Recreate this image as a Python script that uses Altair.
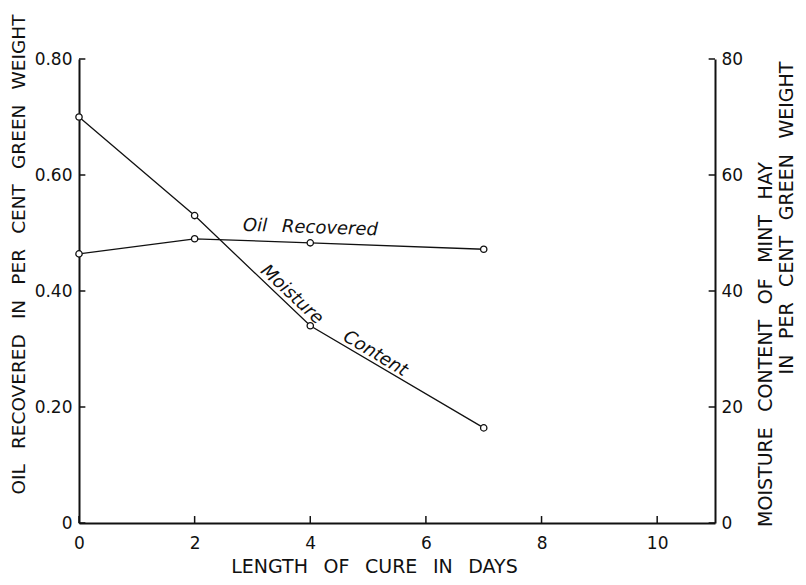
import altair as alt
import pandas as pd

# ---- data ----
days = [0, 2, 4, 7]
oil_recovered = [0.464, 0.490, 0.483, 0.472]      # per cent green weight (left axis)
moisture_content = [70, 53, 34, 16.4]             # per cent green weight (right axis)

x_ticks = [0, 2, 4, 6, 8, 10]
oil_ticks = [0, 0.2, 0.4, 0.6, 0.8]
moist_ticks = [0, 20, 40, 60, 80]

GAP = " \u2002"
x_title = GAP.join(["LENGTH", "OF", "CURE", "IN", "DAYS"])
left_title = GAP.join(["OIL", "RECOVERED", "IN", "PER", "CENT", "GREEN", "WEIGHT"])
right_title_1 = GAP.join(["MOISTURE", "CONTENT", "OF", "MINT", "HAY"])
right_title_2 = GAP.join(["IN", "PER", "CENT", "GREEN", "WEIGHT"])

oil_label = ["Oil" + GAP + "Recovered"]
oil_label_day = [4.0]
oil_label_val = [0.500]
oil_label_angle = [2]

moist_labels = ["Moisture", "Content"]
moist_label_day = [3.62, 5.08]
moist_label_val = [38.7, 28.4]
moist_label_angle = [43, 31]

FONT = "DejaVu Sans"
INK = "#111111"

df = pd.DataFrame({"day": days, "oil": oil_recovered, "moist": moisture_content})
df_oil_lab = pd.DataFrame({"day": oil_label_day, "oil": oil_label_val,
                           "text": oil_label, "angle": oil_label_angle})
df_moist_lab = pd.DataFrame({"day": moist_label_day, "moist": moist_label_val,
                             "text": moist_labels, "angle": moist_label_angle})

# inward tick marks (drawn as rules on the chart's own scales)
df_left_ticks = pd.DataFrame({"day": [0] * len(oil_ticks), "x1": [0.11] * len(oil_ticks), "oil": oil_ticks})
df_right_ticks = pd.DataFrame({"day": [10.89] * len(moist_ticks), "x1": [11] * len(moist_ticks), "moist": moist_ticks})
df_x_ticks = pd.DataFrame({"day": x_ticks, "oil": [0] * len(x_ticks), "y1": [0.012] * len(x_ticks)})

xscale = alt.Scale(domain=[0, 11], nice=False, zero=False)
oil_scale = alt.Scale(domain=[0, 0.8], nice=False)
moist_scale = alt.Scale(domain=[0, 80], nice=False)

x_axis = alt.Axis(values=x_ticks, title=x_title, grid=False, ticks=False,
                  domainColor=INK, domainWidth=2, labelFont=FONT, labelFontSize=17,
                  labelColor=INK, labelPadding=12, titleFont=FONT, titleFontSize=19,
                  titleFontWeight="normal", titleColor=INK, titleX=295, titleY=49,
                  titleAlign="center", titleBaseline="alphabetic", labelFlush=False)

oil_axis = alt.Axis(values=oil_ticks, title=left_title, grid=False, ticks=False,
                    domainColor=INK, domainWidth=2, labelFont=FONT, labelFontSize=17,
                    labelColor=INK, labelPadding=7,
                    labelExpr="datum.value == 0 ? '0' : format(datum.value, '.2f')",
                    titleFont=FONT, titleFontSize=18.5, titleFontWeight="normal",
                    titleColor=INK, titleAngle=270, titleX=-61, titleY=195,
                    titleAlign="center", titleBaseline="middle", labelFlush=False)

moist_axis = alt.Axis(values=moist_ticks, title=right_title_1, orient="right", grid=False,
                      ticks=False, domainColor=INK, domainWidth=2, labelFont=FONT,
                      labelFontSize=17, labelColor=INK, labelPadding=6,
                      titleFont=FONT, titleFontSize=19, titleFontWeight="normal",
                      titleColor=INK, titleAngle=270, titleX=50, titleY=285,
                      titleAlign="center", titleBaseline="middle", labelFlush=False)

X = alt.X("day:Q", scale=xscale, axis=x_axis)
Y_OIL = alt.Y("oil:Q", scale=oil_scale, axis=oil_axis)
Y_MOIST = alt.Y("moist:Q", scale=moist_scale, axis=moist_axis)

# ---- oil layer (left axis) ----
oil_line = alt.Chart(df).mark_line(color=INK, strokeWidth=1.3).encode(x=X, y=Y_OIL)
oil_pts = alt.Chart(df).mark_point(shape="circle", size=40, filled=True, fill="white",
                                   stroke=INK, strokeWidth=1.3, opacity=1).encode(x=X, y=Y_OIL)
oil_text = alt.Chart(df_oil_lab).mark_text(font=FONT, fontSize=18, fontStyle="italic",
                                           color=INK, align="center", baseline="alphabetic").encode(
    x=X, y=Y_OIL, text="text:N", angle=alt.Angle("angle:Q", scale=None))
left_ticks = alt.Chart(df_left_ticks).mark_rule(color=INK, strokeWidth=1.5).encode(
    x=X, x2="x1:Q", y=Y_OIL)
bottom_ticks = alt.Chart(df_x_ticks).mark_rule(color=INK, strokeWidth=1.5).encode(
    x=X, y=Y_OIL, y2="y1:Q")
oil_layer = alt.layer(oil_line, left_ticks, bottom_ticks, oil_pts, oil_text)

# ---- moisture layer (right axis) ----
m_line = alt.Chart(df).mark_line(color=INK, strokeWidth=1.3).encode(x=X, y=Y_MOIST)
m_pts = alt.Chart(df).mark_point(shape="circle", size=40, filled=True, fill="white",
                                 stroke=INK, strokeWidth=1.3, opacity=1).encode(x=X, y=Y_MOIST)
m_text = alt.Chart(df_moist_lab).mark_text(font=FONT, fontSize=18, fontStyle="italic",
                                           color=INK, align="center", baseline="alphabetic").encode(
    x=X, y=Y_MOIST, text="text:N", angle=alt.Angle("angle:Q", scale=None))
right_ticks = alt.Chart(df_right_ticks).mark_rule(color=INK, strokeWidth=1.5).encode(
    x=X, x2="x1:Q", y=Y_MOIST)
moist_layer = alt.layer(m_line, right_ticks, m_pts, m_text)

chart = alt.layer(oil_layer, moist_layer).resolve_scale(y="independent").properties(
    width=636,
    height=464,
    title=alt.TitleParams(text=right_title_2, orient="right", anchor="middle", angle=270,
                          font=FONT, fontSize=19, fontWeight="normal", color=INK,
                          offset=-6, dx=73, dy=-10),
    autosize=alt.AutoSizeParams(type="none"),
    padding={"left": 71, "top": 51, "right": 83, "bottom": 54},
    background="white",
).configure_view(stroke=None)

chart.save("out.html", embed_options={"renderer": "svg", "actions": False})
